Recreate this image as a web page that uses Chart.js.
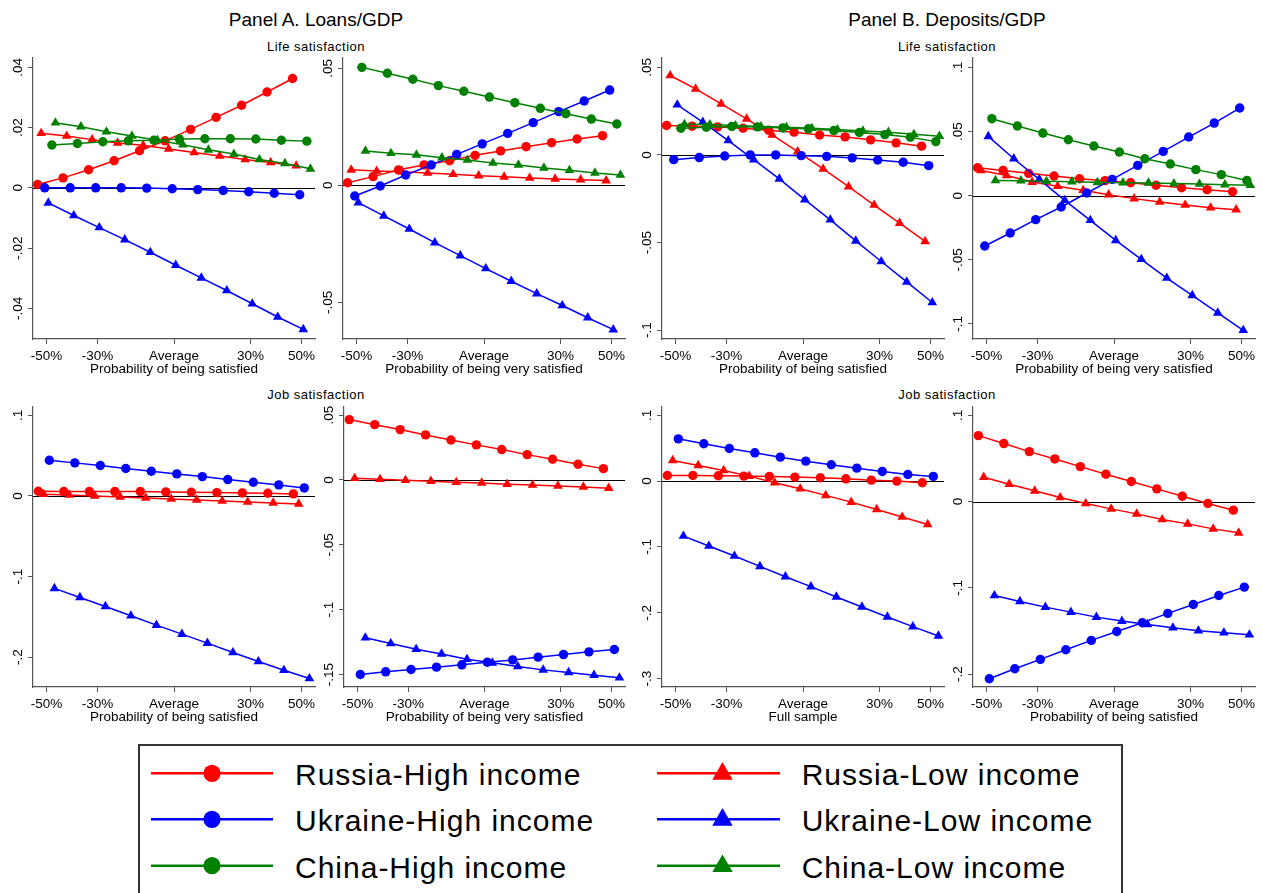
<!DOCTYPE html>
<html><head><meta charset="utf-8">
<script src="https://cdn.jsdelivr.net/npm/chart.js@4.4.1/dist/chart.umd.min.js"></script>
<style>
body{margin:0;background:#fff;}
#wrap{position:relative;width:1263px;height:893px;overflow:hidden;background:#fff;font-family:"Liberation Sans",Arial,Helvetica,sans-serif;color:#000}
.t{position:absolute;white-space:nowrap;text-align:center}
.lt{position:absolute;white-space:nowrap;font-size:30px;line-height:30px;letter-spacing:1px}
canvas{position:absolute}
</style></head>
<body><div id="wrap">
<div class="t" style="left:116px;width:400px;top:9.6px;font-size:19px;line-height:19px">Panel A. Loans/GDP</div>
<div class="t" style="left:747px;width:400px;top:9.6px;font-size:19px;line-height:19px">Panel B. Deposits/GDP</div>
<div class="t" style="left:216px;width:200px;top:39.7px;font-size:13px;line-height:13px;letter-spacing:0.5px">Life satisfaction</div>
<div class="t" style="left:847px;width:200px;top:39.7px;font-size:13px;line-height:13px;letter-spacing:0.5px">Life satisfaction</div>
<div class="t" style="left:216px;width:200px;top:388.4px;font-size:13px;line-height:13px;letter-spacing:0.5px">Job satisfaction</div>
<div class="t" style="left:847px;width:200px;top:388.4px;font-size:13px;line-height:13px;letter-spacing:0.5px">Job satisfaction</div>
<div style="position:absolute;left:138px;top:744px;width:985px;height:170px;border:2px solid #333;box-sizing:border-box;background:#fff"></div>
<svg id="legsvg" width="1263" height="893" style="position:absolute;left:0;top:0"></svg>
<div id="legtext"></div>
</div>
<script>
// ---------- data ----------
const xPoints = [-50,-40,-30,-20,-10,0,10,20,30,40,50];
const xTickValues = [-50,-30,0,30,50];
const xTickLabels = ["-50%","-30%","Average","30%","50%"];
const seriesNames = ["Russia-High income","Russia-Low income","Ukraine-High income","Ukraine-Low income","China-High income","China-Low income"];

// Panel A, life satisfaction, probability of being satisfied
const aLifeSat_RH = [0.0011,0.0033,0.006,0.009,0.0123,0.0156,0.0194,0.0234,0.0274,0.0318,0.0363];
const aLifeSat_RL = [0.0181,0.0172,0.016,0.0149,0.0141,0.0129,0.0117,0.0106,0.0094,0.0084,0.0073];
const aLifeSat_UH = [0,0,0,0,-0.0001,-0.0003,-0.0006,-0.0009,-0.0013,-0.0018,-0.0023];
const aLifeSat_UL = [-0.005,-0.0092,-0.0132,-0.0172,-0.0214,-0.0257,-0.0299,-0.0341,-0.0385,-0.0429,-0.047];
const aLifeSat_CH = [0.0142,0.0147,0.0153,0.0156,0.0158,0.0162,0.0163,0.0163,0.0162,0.0158,0.0155];
const aLifeSat_CL = [0.0216,0.0203,0.0186,0.0172,0.0158,0.0143,0.0126,0.0112,0.0094,0.0081,0.0063];
// Panel A, life satisfaction, very satisfied
const aLifeVery_RH = [0.0011,0.0037,0.0066,0.0087,0.0105,0.0128,0.0147,0.0165,0.0182,0.0198,0.0212];
const aLifeVery_RL = [0.0066,0.0061,0.0058,0.0053,0.0047,0.0041,0.0036,0.0031,0.0027,0.0024,0.002];
const aLifeVery_UH = [-0.0046,-0.0003,0.0044,0.0087,0.0132,0.0177,0.0222,0.0268,0.0315,0.036,0.0407];
const aLifeVery_UL = [-0.0074,-0.0131,-0.0187,-0.0245,-0.0301,-0.0356,-0.041,-0.0463,-0.0514,-0.0566,-0.0617];
const aLifeVery_CH = [0.0504,0.0479,0.0453,0.0426,0.0402,0.0377,0.0353,0.0329,0.0306,0.0283,0.0262];
const aLifeVery_CL = [0.0147,0.0137,0.013,0.0118,0.0108,0.0095,0.0087,0.0074,0.0064,0.0053,0.0044];
// Panel B, life satisfaction, satisfied
const bLifeSat_RH = [0.0168,0.0164,0.016,0.0152,0.0141,0.013,0.0114,0.0103,0.0086,0.0069,0.005];
const bLifeSat_RL = [0.0453,0.0377,0.0291,0.0206,0.0114,0.0019,-0.008,-0.0181,-0.0286,-0.0389,-0.0493];
const bLifeSat_UH = [-0.0027,-0.0015,-0.0006,0,0,-0.0004,-0.0008,-0.0017,-0.0029,-0.0042,-0.0061];
const bLifeSat_UL = [0.0286,0.0187,0.0082,-0.0027,-0.0137,-0.0255,-0.037,-0.049,-0.0608,-0.0724,-0.0842];
const bLifeSat_CH = [0.0152,0.0158,0.0162,0.016,0.0154,0.0149,0.0139,0.0128,0.0116,0.0101,0.0076];
const bLifeSat_CL = [0.0175,0.0173,0.0168,0.0162,0.0158,0.0152,0.0145,0.0137,0.013,0.0118,0.0107];
// Panel B, life satisfaction, very satisfied
const bLifeVery_RH = [0.0218,0.0197,0.0174,0.0153,0.0132,0.0117,0.0101,0.0081,0.0062,0.0047,0.0031];
const bLifeVery_RL = [0.0197,0.0158,0.0106,0.0073,0.0042,0.0008,-0.0023,-0.0049,-0.0073,-0.0094,-0.0109];
const bLifeVery_UH = [-0.0392,-0.0291,-0.0187,-0.0088,0.0021,0.0127,0.0236,0.0345,0.0457,0.0566,0.0683];
const bLifeVery_UL = [0.0462,0.0288,0.0127,-0.0036,-0.0192,-0.0348,-0.0496,-0.0642,-0.0777,-0.0914,-0.1049];
const bLifeVery_CH = [0.06,0.0543,0.0488,0.0436,0.0387,0.034,0.0288,0.0247,0.0203,0.0164,0.0119];
const bLifeVery_CL = [0.0119,0.0117,0.0112,0.0109,0.0104,0.0101,0.0099,0.0094,0.0091,0.0086,0.0081];
// Panel A, job satisfaction, satisfied
const aJobSat_RH = [0.0058,0.0054,0.0054,0.0054,0.0054,0.005,0.0046,0.0041,0.0037,0.0033,0.0025];
const aJobSat_RL = [0.0021,0.0012,0,-0.0012,-0.0025,-0.0037,-0.005,-0.0062,-0.0075,-0.0087,-0.0099];
const aJobSat_UH = [0.0443,0.041,0.0377,0.034,0.0306,0.0273,0.024,0.0203,0.017,0.0137,0.0099];
const aJobSat_UL = [-0.1147,-0.1259,-0.1371,-0.1487,-0.1602,-0.1714,-0.1826,-0.1942,-0.2054,-0.2162,-0.2265];
// Panel A, job satisfaction, very satisfied
const aJobVery_RH = [0.0465,0.0426,0.0388,0.0347,0.0308,0.027,0.0234,0.0195,0.0159,0.0121,0.0087];
const aJobVery_RL = [0.0013,0.0005,-0.0003,-0.001,-0.0018,-0.0023,-0.0033,-0.0039,-0.0046,-0.0054,-0.0064];
const aJobVery_UH = [-0.15,-0.1479,-0.1461,-0.1443,-0.1425,-0.1405,-0.1387,-0.1366,-0.1346,-0.1325,-0.1307];
const aJobVery_UL = [-0.1217,-0.1261,-0.1305,-0.1341,-0.1382,-0.141,-0.1438,-0.1464,-0.1484,-0.1505,-0.1525];
// Panel B, job satisfaction, full sample
const bJobFull_RH = [0.0086,0.0086,0.0081,0.0076,0.0071,0.0061,0.0051,0.0035,0.0015,0,-0.0025];
const bJobFull_RL = [0.0314,0.0238,0.0162,0.0076,-0.0025,-0.0116,-0.0217,-0.0319,-0.043,-0.0546,-0.0658];
const bJobFull_UH = [0.0642,0.0567,0.0496,0.043,0.0364,0.0303,0.0248,0.0197,0.0147,0.0101,0.0071];
const bJobFull_UL = [-0.0835,-0.0986,-0.1138,-0.1295,-0.1452,-0.1603,-0.176,-0.1912,-0.2064,-0.221,-0.2352];
// Panel B, job satisfaction, satisfied
const bJobSat_RH = [0.0764,0.0672,0.0579,0.0494,0.0405,0.0317,0.0232,0.0147,0.0062,-0.0023,-0.01];
const bJobSat_RL = [0.0282,0.0201,0.0124,0.0046,-0.0023,-0.0085,-0.0143,-0.0208,-0.0259,-0.0317,-0.0363];
const bJobSat_UH = [-0.2054,-0.1938,-0.183,-0.1718,-0.161,-0.1506,-0.1405,-0.1297,-0.1193,-0.1089,-0.0992];
const bJobSat_UL = [-0.1089,-0.1158,-0.1224,-0.1282,-0.134,-0.1386,-0.1425,-0.1463,-0.1498,-0.1521,-0.1544];

// y tick values and labels
const yTicks1 = [-0.04,-0.02,0,0.02,0.04];       const yLabels1 = ["-.04","-.02","0",".02",".04"];
const yTicks2 = [-0.05,0,0.05];                  const yLabels2 = ["-.05","0",".05"];
const yTicks3 = [-0.1,-0.05,0,0.05];             const yLabels3 = ["-.1","-.05","0",".05"];
const yTicks4 = [-0.1,-0.05,0,0.05,0.1];         const yLabels4 = ["-.1","-.05","0",".05",".1"];
const yTicks5 = [-0.2,-0.1,0,0.1];               const yLabels5 = ["-.2","-.1","0",".1"];
const yTicks6 = [-0.15,-0.1,-0.05,0,0.05];       const yLabels6 = ["-.15","-.1","-.05","0",".05"];
const yTicks7 = [-0.3,-0.2,-0.1,0,0.1];          const yLabels7 = ["-.3","-.2","-.1","0",".1"];
const yTicks8 = [-0.2,-0.1,0,0.1];               const yLabels8 = ["-.2","-.1","0",".1"];

// ---------- styles / layout ----------
const FONT = '"Liberation Sans", Arial, Helvetica, sans-serif';
const RED = '#ff0000', BLUE = '#0000ff', GREEN = '#008000';
const styles = {
  RH:{color:RED, shape:'circle'}, RL:{color:RED, shape:'triangle'},
  UH:{color:BLUE, shape:'circle'}, UL:{color:BLUE, shape:'triangle'},
  CH:{color:GREEN, shape:'circle'}, CL:{color:GREEN, shape:'triangle'}
};
const offsets6 = [-3.5,-2.1,-0.7,0.7,2.1,3.5];
const offsets4 = [-3.2,-1.1,1.1,3.1];
const YW = 33, PT = 6, PR = 8, XH = 38;
const AXIS_COLOR = '#555';

const decor = {
  id:'decor',
  beforeDatasetsDraw(chart){
    const {ctx, chartArea, scales:{y}} = chart;
    const py = Math.round(y.getPixelForValue(0)) + 0.5;
    ctx.save(); ctx.strokeStyle = '#000'; ctx.lineWidth = 1.2;
    ctx.beginPath(); ctx.moveTo(chartArea.left, py); ctx.lineTo(chartArea.right, py); ctx.stroke();
    ctx.restore();
  },
  afterDraw(chart, args, opts){
    const {ctx, chartArea, scales:{y}} = chart;
    ctx.save(); ctx.font = '13.5px ' + FONT; ctx.fillStyle = '#000';
    ctx.textAlign = 'center'; ctx.textBaseline = 'alphabetic';
    opts.values.forEach((v,i)=>{
      const py = y.getPixelForValue(v);
      ctx.save(); ctx.translate(chartArea.left - 11, py); ctx.rotate(-Math.PI/2);
      ctx.fillText(opts.labels[i], 0, 0); ctx.restore();
    });
    ctx.restore();
  }
};

function makePanel(rect, yMin, yMax, yTicks, yLabels, xTitle, series){
  const [L, T, R, B] = rect;
  const cv = document.createElement('canvas');
  const w = YW + (R - L) + PR, h = PT + (B - T) + XH;
  cv.width = w; cv.height = h;
  cv.style.left = (L - YW) + 'px'; cv.style.top = (T - PT) + 'px';
  cv.style.width = w + 'px'; cv.style.height = h + 'px';
  document.getElementById('wrap').appendChild(cv);
  const offs = series.length === 6 ? offsets6 : offsets4;
  const n = series.length;
  const datasets = series.map((s, k) => {
    const st = styles[s.key];
    return {
      label: s.name,
      data: s.values.map((v,i)=>({x: xPoints[i] + offs[k], y: v})),
      borderColor: st.color, backgroundColor: st.color,
      borderWidth: 1.5, tension: 0,
      pointStyle: st.shape, pointRadius: st.shape === 'circle' ? 4.7 : 5.6,
      pointBorderWidth: 0, pointBackgroundColor: st.color,
      order: n - k
    };
  });
  const gridOpts = {display:true, drawOnChartArea:false, drawTicks:true, tickLength:5, color:AXIS_COLOR, lineWidth:1};
  new Chart(cv, {
    type:'line',
    data:{datasets},
    options:{
      responsive:false, animation:false, devicePixelRatio:1, events:[],
      layout:{padding:{left:0, top:PT, right:PR, bottom:0}},
      plugins:{legend:{display:false}, tooltip:{enabled:false}, decor:{values:yTicks, labels:yLabels}},
      scales:{
        x:{type:'linear', min:-55.3, max:55.3,
           afterBuildTicks: s => { s.ticks = xTickValues.map(v=>({value:v})); },
           afterFit: s => { s.height = XH; },
           ticks:{autoSkip:false, maxRotation:0, minRotation:0, padding:4, color:'#000',
                  font:{family:FONT, size:13.5}, callback:(v,i)=>xTickLabels[i]},
           grid:gridOpts, border:{display:true, color:AXIS_COLOR, width:1.2},
           title:{display:true, text:xTitle, color:'#000', font:{family:FONT, size:13.5}, padding:{top:0,bottom:0}}
        },
        y:{type:'linear', min:yMin, max:yMax,
           afterBuildTicks: s => { s.ticks = yTicks.map(v=>({value:v})); },
           afterFit: s => { s.width = YW; },
           ticks:{display:false},
           grid:gridOpts, border:{display:true, color:AXIS_COLOR, width:1.2}
        }
      }
    },
    plugins:[decor]
  });
}

const S = (key, values) => ({key, values, name: seriesNames[['RH','RL','UH','UL','CH','CL'].indexOf(key)]});
const tSat = "Probability of being satisfied", tVery = "Probability of being very satisfied";

makePanel([33,58,315,339], -0.0502, 0.0431, yTicks1, yLabels1, tSat,
  [S('RH',aLifeSat_RH),S('RL',aLifeSat_RL),S('UH',aLifeSat_UH),S('UL',aLifeSat_UL),S('CH',aLifeSat_CH),S('CL',aLifeSat_CL)]);
makePanel([343,58,625,339], -0.0657, 0.0544, yTicks2, yLabels2, tVery,
  [S('RH',aLifeVery_RH),S('RL',aLifeVery_RL),S('UH',aLifeVery_UH),S('UL',aLifeVery_UL),S('CH',aLifeVery_CH),S('CL',aLifeVery_CL)]);
makePanel([662,58,944,339], -0.105, 0.0553, yTicks3, yLabels3, tSat,
  [S('RH',bLifeSat_RH),S('RL',bLifeSat_RL),S('UH',bLifeSat_UH),S('UL',bLifeSat_UL),S('CH',bLifeSat_CH),S('CL',bLifeSat_CL)]);
makePanel([973,58,1255,339], -0.1117, 0.1073, yTicks4, yLabels4, tVery,
  [S('RH',bLifeVery_RH),S('RL',bLifeVery_RL),S('UH',bLifeVery_UH),S('UL',bLifeVery_UL),S('CH',bLifeVery_CH),S('CL',bLifeVery_CL)]);
makePanel([33,407,315,687], -0.237, 0.1103, yTicks5, yLabels5, tSat,
  [S('RH',aJobSat_RH),S('RL',aJobSat_RL),S('UH',aJobSat_UH),S('UL',aJobSat_UL)]);
makePanel([344,407,625,687], -0.1596, 0.0562, yTicks6, yLabels6, tVery,
  [S('RH',aJobVery_RH),S('RL',aJobVery_RL),S('UH',aJobVery_UH),S('UL',aJobVery_UL)]);
makePanel([662,407,944,687], -0.3128, 0.1126, yTicks7, yLabels7, "Full sample",
  [S('RH',bJobFull_RH),S('RL',bJobFull_RL),S('UH',bJobFull_UH),S('UL',bJobFull_UL)]);
makePanel([973,407,1255,687], -0.215, 0.1096, yTicks8, yLabels8, tSat,
  [S('RH',bJobSat_RH),S('RL',bJobSat_RL),S('UH',bJobSat_UH),S('UL',bJobSat_UL)]);

// ---------- legend ----------
(function(){
  const svg = document.getElementById('legsvg');
  const txt = document.getElementById('legtext');
  const NS = 'http://www.w3.org/2000/svg';
  const cols = [{x1:151,x2:273,mx:212,tx:295},{x1:657,x2:780,mx:722.5,tx:801.7}];
  const rows = [773.3, 819.3, 865.7];
  const keys = [['RH','UH','CH'],['RL','UL','CL']];
  keys.forEach((colKeys, c) => colKeys.forEach((key, r) => {
    const st = styles[key], col = cols[c], y = rows[r];
    const ln = document.createElementNS(NS,'line');
    ln.setAttribute('x1',col.x1); ln.setAttribute('x2',col.x2); ln.setAttribute('y1',y); ln.setAttribute('y2',y);
    ln.setAttribute('stroke',st.color); ln.setAttribute('stroke-width','2.5'); svg.appendChild(ln);
    let m;
    if (st.shape === 'circle') {
      m = document.createElementNS(NS,'circle');
      m.setAttribute('cx',col.mx); m.setAttribute('cy',y); m.setAttribute('r','8.6');
    } else {
      m = document.createElementNS(NS,'polygon');
      const R = 11.8, cx = col.mx, cy = y + 0.5;
      m.setAttribute('points', `${cx},${cy-R} ${cx-R*0.866},${cy+R/2} ${cx+R*0.866},${cy+R/2}`);
    }
    m.setAttribute('fill', st.color); svg.appendChild(m);
    const d = document.createElement('div');
    d.className = 'lt'; d.style.left = col.tx + 'px'; d.style.top = (y - 13) + 'px';
    d.textContent = seriesNames[['RH','RL','UH','UL','CH','CL'].indexOf(key)];
    document.getElementById('wrap').appendChild(d);
  }));
})();
</script>
</body></html>
